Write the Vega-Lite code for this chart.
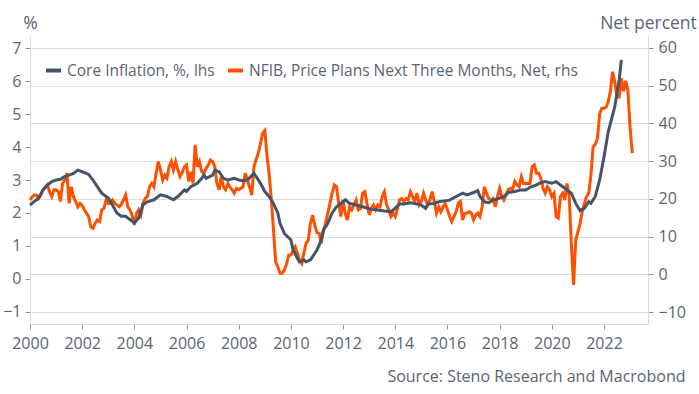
{
  "$schema": "https://vega.github.io/schema/vega-lite/v6.json",
  "autosize": "none",
  "width": 618,
  "height": 288,
  "padding": {"left": 30, "top": 36, "right": 51, "bottom": 70},
  "background": "white",
  "datasets": {
    "core": [
      {"date": "2000-01-01", "v": 2.24}, {"date": "2000-03-01", "v": 2.35}, {"date": "2000-05-01", "v": 2.45}, {"date": "2000-07-01", "v": 2.7}, {"date": "2000-09-01", "v": 2.85}, {"date": "2000-11-01", "v": 2.95},
      {"date": "2001-01-01", "v": 3.0}, {"date": "2001-03-01", "v": 3.02}, {"date": "2001-05-01", "v": 3.1}, {"date": "2001-07-01", "v": 3.15}, {"date": "2001-09-01", "v": 3.2}, {"date": "2001-11-01", "v": 3.3},
      {"date": "2002-01-01", "v": 3.25}, {"date": "2002-03-01", "v": 3.2}, {"date": "2002-04-01", "v": 3.17}, {"date": "2002-06-01", "v": 3.0}, {"date": "2002-08-01", "v": 2.8}, {"date": "2002-10-01", "v": 2.6},
      {"date": "2003-01-01", "v": 2.45}, {"date": "2003-03-01", "v": 2.24}, {"date": "2003-05-01", "v": 2.0}, {"date": "2003-07-01", "v": 1.9}, {"date": "2003-09-01", "v": 1.9}, {"date": "2003-11-01", "v": 1.8},
      {"date": "2004-01-01", "v": 1.7}, {"date": "2004-03-01", "v": 1.85}, {"date": "2004-05-01", "v": 2.25}, {"date": "2004-07-01", "v": 2.34}, {"date": "2004-10-01", "v": 2.4},
      {"date": "2005-01-01", "v": 2.55}, {"date": "2005-04-01", "v": 2.5}, {"date": "2005-07-01", "v": 2.4}, {"date": "2005-09-01", "v": 2.5}, {"date": "2005-12-01", "v": 2.7},
      {"date": "2006-01-01", "v": 2.65}, {"date": "2006-03-01", "v": 2.8}, {"date": "2006-06-01", "v": 2.9}, {"date": "2006-08-01", "v": 3.05}, {"date": "2006-09-01", "v": 3.15}, {"date": "2006-10-01", "v": 3.05},
      {"date": "2007-01-01", "v": 3.15}, {"date": "2007-02-01", "v": 3.3}, {"date": "2007-04-01", "v": 3.25}, {"date": "2007-06-01", "v": 3.05}, {"date": "2007-08-01", "v": 3.0}, {"date": "2007-11-01", "v": 3.05},
      {"date": "2008-01-01", "v": 3.0}, {"date": "2008-03-01", "v": 2.98}, {"date": "2008-05-01", "v": 3.0}, {"date": "2008-08-01", "v": 3.2}, {"date": "2008-09-01", "v": 3.1}, {"date": "2008-11-01", "v": 2.9},
      {"date": "2009-01-01", "v": 2.65}, {"date": "2009-03-01", "v": 2.5}, {"date": "2009-05-01", "v": 2.29}, {"date": "2009-07-01", "v": 2.0}, {"date": "2009-08-01", "v": 1.69}, {"date": "2009-10-01", "v": 1.38},
      {"date": "2010-01-01", "v": 1.18}, {"date": "2010-02-01", "v": 0.88}, {"date": "2010-04-01", "v": 0.63}, {"date": "2010-05-01", "v": 0.52}, {"date": "2010-07-01", "v": 0.58}, {"date": "2010-08-01", "v": 0.52}, {"date": "2010-10-01", "v": 0.58}, {"date": "2010-11-01", "v": 0.68},
      {"date": "2011-01-01", "v": 0.88}, {"date": "2011-03-01", "v": 1.18}, {"date": "2011-04-01", "v": 1.48}, {"date": "2011-06-01", "v": 1.69}, {"date": "2011-08-01", "v": 2.0}, {"date": "2011-10-01", "v": 2.19},
      {"date": "2012-01-01", "v": 2.34}, {"date": "2012-02-01", "v": 2.4}, {"date": "2012-04-01", "v": 2.29}, {"date": "2012-07-01", "v": 2.24}, {"date": "2012-10-01", "v": 2.19},
      {"date": "2013-02-01", "v": 2.11}, {"date": "2013-05-01", "v": 2.09}, {"date": "2013-08-01", "v": 2.06}, {"date": "2013-11-01", "v": 2.04}, {"date": "2013-12-01", "v": 2.09},
      {"date": "2014-03-01", "v": 2.27}, {"date": "2014-05-01", "v": 2.27}, {"date": "2014-08-01", "v": 2.31}, {"date": "2014-10-01", "v": 2.29},
      {"date": "2015-01-01", "v": 2.24}, {"date": "2015-03-01", "v": 2.14}, {"date": "2015-04-01", "v": 2.27}, {"date": "2015-07-01", "v": 2.29}, {"date": "2015-09-01", "v": 2.34}, {"date": "2015-11-01", "v": 2.36},
      {"date": "2016-02-01", "v": 2.39}, {"date": "2016-05-01", "v": 2.5}, {"date": "2016-08-01", "v": 2.6}, {"date": "2016-10-01", "v": 2.55},
      {"date": "2017-01-01", "v": 2.62}, {"date": "2017-03-01", "v": 2.68}, {"date": "2017-04-01", "v": 2.5}, {"date": "2017-06-01", "v": 2.34}, {"date": "2017-08-01", "v": 2.31}, {"date": "2017-10-01", "v": 2.39},
      {"date": "2018-01-01", "v": 2.45}, {"date": "2018-03-01", "v": 2.5}, {"date": "2018-05-01", "v": 2.62}, {"date": "2018-08-01", "v": 2.65}, {"date": "2018-11-01", "v": 2.7},
      {"date": "2019-01-01", "v": 2.7}, {"date": "2019-03-01", "v": 2.78}, {"date": "2019-06-01", "v": 2.85}, {"date": "2019-08-01", "v": 2.92}, {"date": "2019-10-01", "v": 2.95},
      {"date": "2020-01-01", "v": 2.9}, {"date": "2020-03-01", "v": 2.95}, {"date": "2020-05-01", "v": 2.85}, {"date": "2020-07-01", "v": 2.75}, {"date": "2020-10-01", "v": 2.6}, {"date": "2020-12-01", "v": 2.29},
      {"date": "2021-02-01", "v": 2.07}, {"date": "2021-04-01", "v": 2.14}, {"date": "2021-06-01", "v": 2.34}, {"date": "2021-07-01", "v": 2.29}, {"date": "2021-09-01", "v": 2.5}, {"date": "2021-11-01", "v": 3.0},
      {"date": "2022-01-01", "v": 3.7}, {"date": "2022-03-01", "v": 4.46}, {"date": "2022-06-01", "v": 5.22}, {"date": "2022-08-01", "v": 6.03}, {"date": "2022-09-01", "v": 6.64}
    ],
    "nfib": [
      {"date": "2000-01-01", "v": 19.7}, {"date": "2000-02-01", "v": 20.5}, {"date": "2000-03-01", "v": 21.0}, {"date": "2000-04-01", "v": 21.0}, {"date": "2000-05-01", "v": 20.1}, {"date": "2000-06-01", "v": 21.0}, {"date": "2000-07-01", "v": 22.4}, {"date": "2000-08-01", "v": 23.0}, {"date": "2000-09-01", "v": 23.7}, {"date": "2000-10-01", "v": 21.9}, {"date": "2000-11-01", "v": 20.6}, {"date": "2000-12-01", "v": 22.4},
      {"date": "2001-01-01", "v": 22.4}, {"date": "2001-02-01", "v": 21.9}, {"date": "2001-03-01", "v": 19.3}, {"date": "2001-04-01", "v": 24.1}, {"date": "2001-05-01", "v": 25.0}, {"date": "2001-06-01", "v": 26.8}, {"date": "2001-07-01", "v": 18.8}, {"date": "2001-08-01", "v": 23.2}, {"date": "2001-09-01", "v": 20.5}, {"date": "2001-10-01", "v": 19.3}, {"date": "2001-11-01", "v": 17.9}, {"date": "2001-12-01", "v": 18.8},
      {"date": "2002-01-01", "v": 18.2}, {"date": "2002-02-01", "v": 17.1}, {"date": "2002-03-01", "v": 16.2}, {"date": "2002-04-01", "v": 15.3}, {"date": "2002-05-01", "v": 12.6}, {"date": "2002-06-01", "v": 12.2}, {"date": "2002-07-01", "v": 13.5}, {"date": "2002-08-01", "v": 14.4}, {"date": "2002-09-01", "v": 14.0}, {"date": "2002-10-01", "v": 17.1}, {"date": "2002-11-01", "v": 17.5}, {"date": "2002-12-01", "v": 19.7},
      {"date": "2003-01-01", "v": 18.8}, {"date": "2003-02-01", "v": 18.8}, {"date": "2003-03-01", "v": 19.7}, {"date": "2003-04-01", "v": 18.9}, {"date": "2003-05-01", "v": 18.4}, {"date": "2003-06-01", "v": 17.9}, {"date": "2003-07-01", "v": 18.5}, {"date": "2003-08-01", "v": 19.7}, {"date": "2003-09-01", "v": 21.0}, {"date": "2003-10-01", "v": 17.9}, {"date": "2003-11-01", "v": 17.1}, {"date": "2003-12-01", "v": 15.5},
      {"date": "2004-01-01", "v": 13.1}, {"date": "2004-02-01", "v": 16.2}, {"date": "2004-03-01", "v": 17.1}, {"date": "2004-04-01", "v": 15.7}, {"date": "2004-05-01", "v": 18.8}, {"date": "2004-06-01", "v": 20.1}, {"date": "2004-07-01", "v": 20.6}, {"date": "2004-08-01", "v": 23.2}, {"date": "2004-09-01", "v": 24.1}, {"date": "2004-10-01", "v": 23.2}, {"date": "2004-11-01", "v": 26.8}, {"date": "2004-12-01", "v": 29.9},
      {"date": "2005-01-01", "v": 27.7}, {"date": "2005-02-01", "v": 25.0}, {"date": "2005-03-01", "v": 26.3}, {"date": "2005-04-01", "v": 25.5}, {"date": "2005-05-01", "v": 28.5}, {"date": "2005-06-01", "v": 29.9}, {"date": "2005-07-01", "v": 27.7}, {"date": "2005-08-01", "v": 29.9}, {"date": "2005-09-01", "v": 27.7}, {"date": "2005-10-01", "v": 25.9}, {"date": "2005-11-01", "v": 27.0}, {"date": "2005-12-01", "v": 28.5},
      {"date": "2006-01-01", "v": 29.0}, {"date": "2006-02-01", "v": 24.6}, {"date": "2006-03-01", "v": 27.2}, {"date": "2006-04-01", "v": 24.1}, {"date": "2006-05-01", "v": 34.3}, {"date": "2006-06-01", "v": 28.5}, {"date": "2006-07-01", "v": 29.9}, {"date": "2006-08-01", "v": 27.2}, {"date": "2006-09-01", "v": 26.8}, {"date": "2006-10-01", "v": 28.1}, {"date": "2006-11-01", "v": 29.0}, {"date": "2006-12-01", "v": 30.3},
      {"date": "2007-01-01", "v": 29.9}, {"date": "2007-02-01", "v": 28.5}, {"date": "2007-03-01", "v": 24.1}, {"date": "2007-04-01", "v": 22.4}, {"date": "2007-05-01", "v": 25.9}, {"date": "2007-06-01", "v": 23.2}, {"date": "2007-07-01", "v": 22.4}, {"date": "2007-08-01", "v": 24.1}, {"date": "2007-09-01", "v": 23.2}, {"date": "2007-10-01", "v": 22.4}, {"date": "2007-11-01", "v": 21.5}, {"date": "2007-12-01", "v": 22.8},
      {"date": "2008-01-01", "v": 22.4}, {"date": "2008-02-01", "v": 22.8}, {"date": "2008-03-01", "v": 23.2}, {"date": "2008-04-01", "v": 26.8}, {"date": "2008-05-01", "v": 25.0}, {"date": "2008-06-01", "v": 23.2}, {"date": "2008-07-01", "v": 21.0}, {"date": "2008-08-01", "v": 28.5}, {"date": "2008-09-01", "v": 30.5}, {"date": "2008-10-01", "v": 32.1}, {"date": "2008-11-01", "v": 34.7}, {"date": "2008-12-01", "v": 37.4},
      {"date": "2009-01-01", "v": 38.1}, {"date": "2009-02-01", "v": 31.2}, {"date": "2009-03-01", "v": 26.8}, {"date": "2009-04-01", "v": 20.0}, {"date": "2009-05-01", "v": 12.0}, {"date": "2009-06-01", "v": 3.3}, {"date": "2009-07-01", "v": 2.0}, {"date": "2009-08-01", "v": 0.3}, {"date": "2009-09-01", "v": 0.3}, {"date": "2009-10-01", "v": 1.1}, {"date": "2009-11-01", "v": 2.8}, {"date": "2009-12-01", "v": 5.1},
      {"date": "2010-01-01", "v": 5.1}, {"date": "2010-02-01", "v": 6.4}, {"date": "2010-03-01", "v": 7.3}, {"date": "2010-04-01", "v": 5.6}, {"date": "2010-05-01", "v": 3.8}, {"date": "2010-06-01", "v": 2.9}, {"date": "2010-07-01", "v": 5.6}, {"date": "2010-08-01", "v": 8.2}, {"date": "2010-09-01", "v": 9.1}, {"date": "2010-10-01", "v": 13.5}, {"date": "2010-11-01", "v": 15.7}, {"date": "2010-12-01", "v": 13.0},
      {"date": "2011-01-01", "v": 11.0}, {"date": "2011-02-01", "v": 10.9}, {"date": "2011-03-01", "v": 8.2}, {"date": "2011-04-01", "v": 11.7}, {"date": "2011-05-01", "v": 13.5}, {"date": "2011-06-01", "v": 16.2}, {"date": "2011-07-01", "v": 18.8}, {"date": "2011-08-01", "v": 21.5}, {"date": "2011-09-01", "v": 23.7}, {"date": "2011-10-01", "v": 23.2}, {"date": "2011-11-01", "v": 18.8}, {"date": "2011-12-01", "v": 15.3},
      {"date": "2012-01-01", "v": 19.7}, {"date": "2012-02-01", "v": 16.0}, {"date": "2012-03-01", "v": 14.4}, {"date": "2012-04-01", "v": 17.9}, {"date": "2012-05-01", "v": 17.1}, {"date": "2012-06-01", "v": 18.5}, {"date": "2012-07-01", "v": 19.7}, {"date": "2012-08-01", "v": 17.1}, {"date": "2012-09-01", "v": 17.5}, {"date": "2012-10-01", "v": 21.5}, {"date": "2012-11-01", "v": 21.9}, {"date": "2012-12-01", "v": 18.8},
      {"date": "2013-01-01", "v": 15.7}, {"date": "2013-02-01", "v": 17.5}, {"date": "2013-03-01", "v": 18.4}, {"date": "2013-04-01", "v": 17.1}, {"date": "2013-05-01", "v": 18.4}, {"date": "2013-06-01", "v": 17.9}, {"date": "2013-07-01", "v": 20.6}, {"date": "2013-08-01", "v": 21.9}, {"date": "2013-09-01", "v": 18.4}, {"date": "2013-10-01", "v": 17.1}, {"date": "2013-11-01", "v": 15.3}, {"date": "2013-12-01", "v": 16.2},
      {"date": "2014-01-01", "v": 15.3}, {"date": "2014-02-01", "v": 17.5}, {"date": "2014-03-01", "v": 19.7}, {"date": "2014-04-01", "v": 20.1}, {"date": "2014-05-01", "v": 19.3}, {"date": "2014-06-01", "v": 20.1}, {"date": "2014-07-01", "v": 19.7}, {"date": "2014-08-01", "v": 21.9}, {"date": "2014-09-01", "v": 20.6}, {"date": "2014-10-01", "v": 19.3}, {"date": "2014-11-01", "v": 21.5}, {"date": "2014-12-01", "v": 18.4},
      {"date": "2015-01-01", "v": 19.3}, {"date": "2015-02-01", "v": 21.5}, {"date": "2015-03-01", "v": 19.7}, {"date": "2015-04-01", "v": 18.4}, {"date": "2015-05-01", "v": 19.7}, {"date": "2015-06-01", "v": 21.9}, {"date": "2015-07-01", "v": 19.3}, {"date": "2015-08-01", "v": 16.2}, {"date": "2015-09-01", "v": 17.9}, {"date": "2015-10-01", "v": 16.6}, {"date": "2015-11-01", "v": 17.9}, {"date": "2015-12-01", "v": 18.8},
      {"date": "2016-01-01", "v": 17.1}, {"date": "2016-02-01", "v": 15.3}, {"date": "2016-03-01", "v": 14.0}, {"date": "2016-04-01", "v": 15.3}, {"date": "2016-05-01", "v": 16.6}, {"date": "2016-06-01", "v": 18.8}, {"date": "2016-07-01", "v": 19.3}, {"date": "2016-08-01", "v": 14.4}, {"date": "2016-09-01", "v": 16.2}, {"date": "2016-10-01", "v": 16.2}, {"date": "2016-11-01", "v": 16.6}, {"date": "2016-12-01", "v": 16.2},
      {"date": "2017-01-01", "v": 14.4}, {"date": "2017-02-01", "v": 15.7}, {"date": "2017-03-01", "v": 16.2}, {"date": "2017-04-01", "v": 15.3}, {"date": "2017-05-01", "v": 17.9}, {"date": "2017-06-01", "v": 23.2}, {"date": "2017-07-01", "v": 21.5}, {"date": "2017-08-01", "v": 20.1}, {"date": "2017-09-01", "v": 19.7}, {"date": "2017-10-01", "v": 20.1}, {"date": "2017-11-01", "v": 17.9}, {"date": "2017-12-01", "v": 20.6},
      {"date": "2018-01-01", "v": 22.8}, {"date": "2018-02-01", "v": 20.6}, {"date": "2018-03-01", "v": 19.7}, {"date": "2018-04-01", "v": 21.0}, {"date": "2018-05-01", "v": 22.4}, {"date": "2018-06-01", "v": 22.8}, {"date": "2018-07-01", "v": 22.4}, {"date": "2018-08-01", "v": 24.6}, {"date": "2018-09-01", "v": 23.7}, {"date": "2018-10-01", "v": 23.2}, {"date": "2018-11-01", "v": 25.9}, {"date": "2018-12-01", "v": 24.1},
      {"date": "2019-01-01", "v": 24.1}, {"date": "2019-02-01", "v": 24.1}, {"date": "2019-03-01", "v": 24.1}, {"date": "2019-04-01", "v": 28.5}, {"date": "2019-05-01", "v": 29.0}, {"date": "2019-06-01", "v": 26.8}, {"date": "2019-07-01", "v": 26.8}, {"date": "2019-08-01", "v": 25.5}, {"date": "2019-09-01", "v": 22.8}, {"date": "2019-10-01", "v": 21.5}, {"date": "2019-11-01", "v": 23.2}, {"date": "2019-12-01", "v": 22.4},
      {"date": "2020-01-01", "v": 20.6}, {"date": "2020-02-01", "v": 21.5}, {"date": "2020-03-01", "v": 15.3}, {"date": "2020-04-01", "v": 14.9}, {"date": "2020-05-01", "v": 20.6}, {"date": "2020-06-01", "v": 21.5}, {"date": "2020-07-01", "v": 19.7}, {"date": "2020-08-01", "v": 24.1}, {"date": "2020-09-01", "v": 20.6}, {"date": "2020-10-01", "v": 8.0}, {"date": "2020-11-01", "v": -2.8}, {"date": "2020-12-01", "v": 9.0},
      {"date": "2021-01-01", "v": 11.3}, {"date": "2021-02-01", "v": 13.5}, {"date": "2021-03-01", "v": 16.6}, {"date": "2021-04-01", "v": 18.8}, {"date": "2021-05-01", "v": 20.6}, {"date": "2021-06-01", "v": 21.5}, {"date": "2021-07-01", "v": 26.0}, {"date": "2021-08-01", "v": 33.8}, {"date": "2021-09-01", "v": 34.5}, {"date": "2021-10-01", "v": 36.0}, {"date": "2021-11-01", "v": 42.5}, {"date": "2021-12-01", "v": 44.0},
      {"date": "2022-01-01", "v": 44.0}, {"date": "2022-02-01", "v": 44.3}, {"date": "2022-03-01", "v": 45.8}, {"date": "2022-04-01", "v": 48.5}, {"date": "2022-05-01", "v": 53.7}, {"date": "2022-06-01", "v": 51.0}, {"date": "2022-07-01", "v": 47.1}, {"date": "2022-08-01", "v": 47.0}, {"date": "2022-09-01", "v": 52.0}, {"date": "2022-10-01", "v": 48.5}, {"date": "2022-11-01", "v": 51.3}, {"date": "2022-12-01", "v": 48.9},
      {"date": "2023-01-01", "v": 39.0}, {"date": "2023-02-01", "v": 32.1}
    ]
  },
  "encoding": {
    "x": {
      "field": "date", "type": "temporal",
      "scale": {"domain": [{"year": 2000, "month": 1, "date": 1}, {"year": 2023, "month": 9, "date": 9}]},
      "axis": {
        "format": "%Y", "tickCount": {"interval": "year", "step": 2}, "grid": false,
        "labelPadding": 6, "labelFlush": false, "labelOverlap": false,
        "title": "Source: Steno Research and Macrobond",
        "titleFontSize": 16,
        "titleAnchor": "end", "titleAlign": "right", "titleBaseline": "middle",
        "titleX": 655, "titleY": 52
      }
    }
  },
  "layer": [
    {
      "data": {"name": "nfib"},
      "mark": {"type": "line", "strokeWidth": 3, "interpolate": "linear"},
      "encoding": {
        "y": {
          "field": "v", "type": "quantitative",
          "scale": {"domain": [-13.18, 63.18], "nice": false, "zero": false},
          "axis": {"orient": "right", "values": [-10, 0, 10, 20, 30, 40, 50, 60], "grid": true, "labelPadding": 5, "title": "Net percent", "titleFontSize": 17.5, "titleAngle": 0, "titleAlign": "center", "titleBaseline": "middle", "titleX": 0, "titleY": -13}
        },
        "color": {"datum": "NFIB, Price Plans Next Three Months, Net, rhs"}
      }
    },
    {
      "data": {"name": "core"},
      "mark": {"type": "line", "strokeWidth": 3, "interpolate": "linear"},
      "encoding": {
        "y": {
          "field": "v", "type": "quantitative",
          "scale": {"domain": [-1.364, 7.364], "nice": false, "zero": false},
          "axis": {"orient": "left", "values": [-1, 0, 1, 2, 3, 4, 5, 6, 7], "grid": false, "labelPadding": 4, "title": "%", "titleFontSize": 17.5, "titleAngle": 0, "titleAlign": "center", "titleBaseline": "middle", "titleX": 0, "titleY": -13}
        },
        "color": {
          "datum": "Core Inflation, %, lhs",
          "scale": {"domain": ["Core Inflation, %, lhs", "NFIB, Price Plans Next Three Months, Net, rhs"], "range": ["#44546a", "#ff5000"]}
        }
      }
    }
  ],
  "resolve": {"scale": {"y": "independent"}, "axis": {"y": "independent"}},
  "config": {
    "font": "Open Sans",
    "view": {"stroke": null},
    "axis": {"labelFont": "Open Sans", "titleFont": "Open Sans", "labelFontSize": 16, "titleFontSize": 16, "labelColor": "#5b6473", "titleColor": "#5b6473", "titleFontWeight": "normal", "domainColor": "#d9d9d9", "tickColor": "#8a93a0", "gridColor": "#dcdcdc", "tickSize": 5},
    "legend": {"orient": "none", "legendX": 14, "legendY": 25, "direction": "horizontal", "title": null, "labelFont": "Open Sans", "labelFontSize": 15.5, "labelColor": "#5b6473", "labelLimit": 0, "symbolType": "stroke", "symbolStrokeWidth": 4, "symbolSize": 225, "columnPadding": 5, "labelOffset": 4}
  }
}
